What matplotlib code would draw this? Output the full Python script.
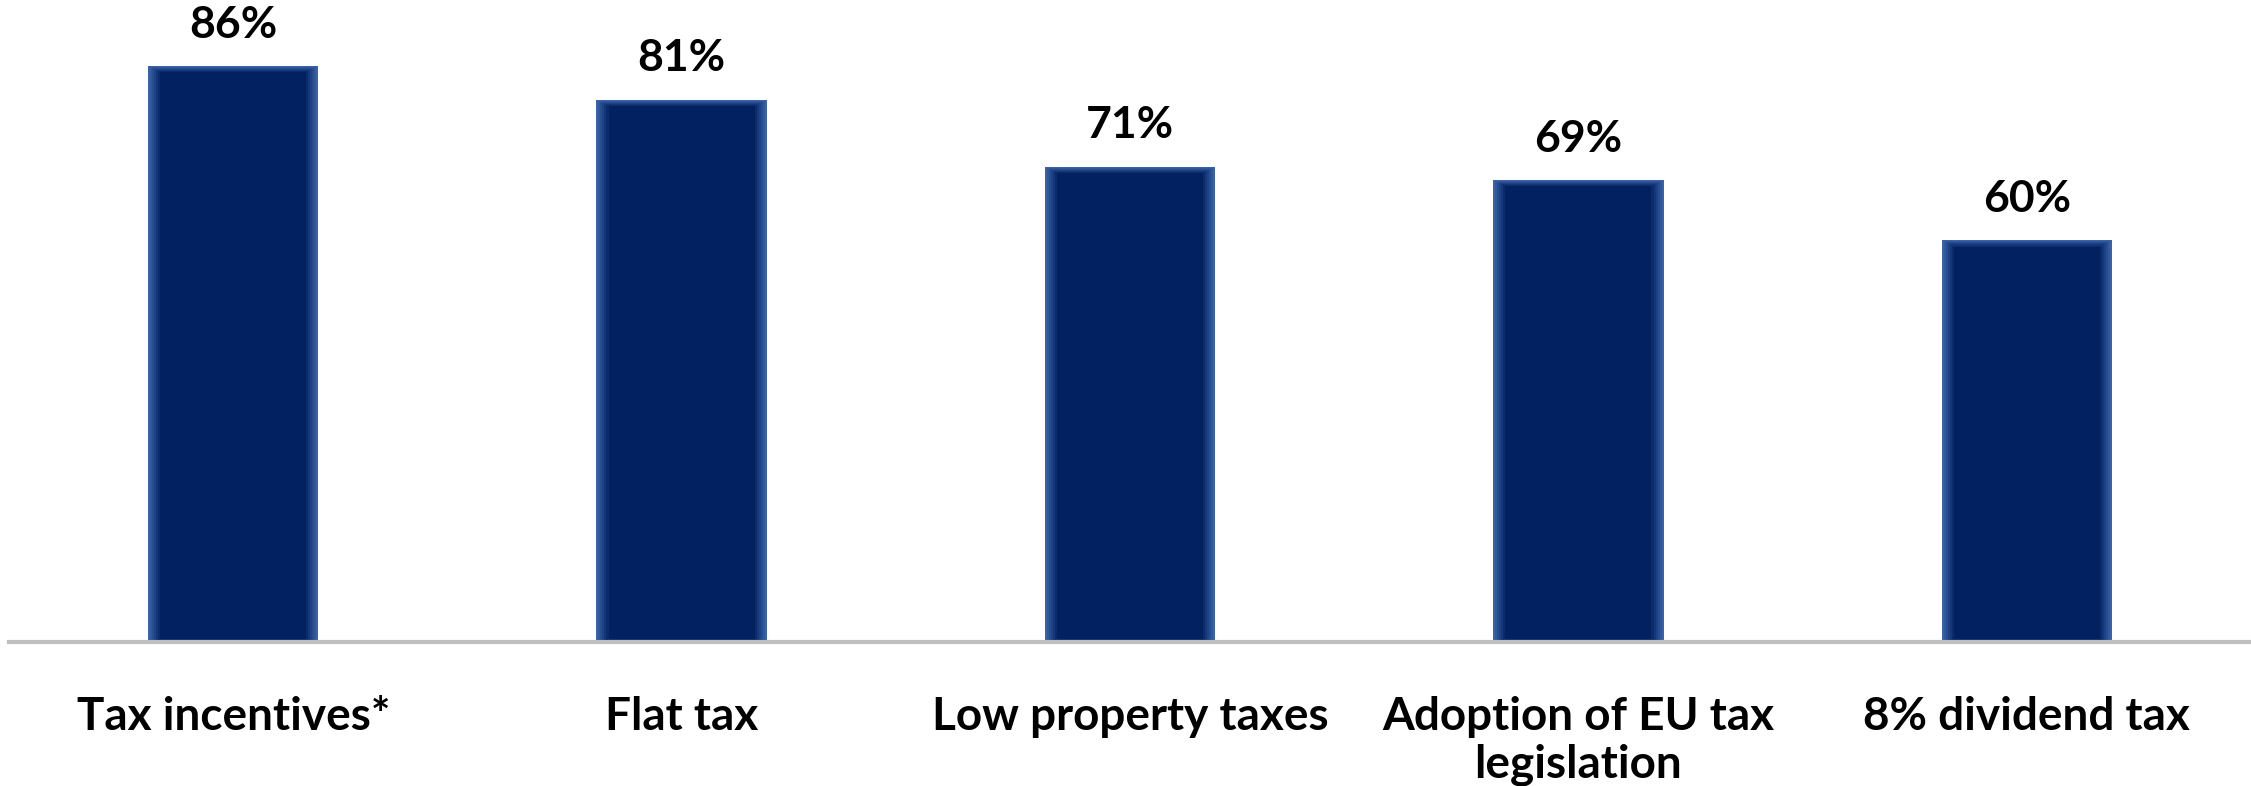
import matplotlib.pyplot as plt
import numpy as np

categories = ["Tax incentives*", "Flat tax", "Low property taxes",
              "Adoption of EU tax\nlegislation", "8% dividend tax"]
values = [86, 81, 71, 69, 60]
value_labels = ["86%", "81%", "71%", "69%", "60%"]

plt.rcParams['font.family'] = ['Lato', 'DejaVu Sans']

fig = plt.figure(figsize=(22.51, 7.86), dpi=100)
ax = fig.add_axes([0.004, 0.1832, 0.996, 0.7665])

x = np.arange(len(categories))
width = 0.38

# soft glow: lighter blue rim fading into the navy fill
rim = np.array([0x3a, 0x62, 0xa8]) / 255
core = np.array([0x02, 0x21, 0x60]) / 255
steps = 7
for k in range(steps):
    t = k / (steps - 1)
    col = rim * (1 - t) + core * t
    shrink_w = k * 0.0045
    shrink_h = k * 0.22
    ax.bar(x, np.array(values) - shrink_h, width=width - 2 * shrink_w,
           bottom=shrink_h * 0.3, color=col, linewidth=0, zorder=2 + k)

for xi, v, lab in zip(x, values, value_labels):
    ax.text(xi, v + 3.2, lab, ha='center', va='bottom', fontsize=32,
            fontweight='bold', color='black', clip_on=False)

ax.set_xlim(-0.5, 4.5)
ax.set_ylim(0, 90)
ax.set_xticks(x)
ax.set_xticklabels(categories, fontsize=33, fontweight='bold',
                   linespacing=1.15)
ax.tick_params(axis='x', length=0, pad=39)
ax.set_yticks([])
for s in ['top', 'left', 'right']:
    ax.spines[s].set_visible(False)
ax.spines['bottom'].set_color('#bfbfbf')
ax.spines['bottom'].set_linewidth(3)
ax.spines['bottom'].set_zorder(20)

fig.savefig('out.png', dpi=100)
